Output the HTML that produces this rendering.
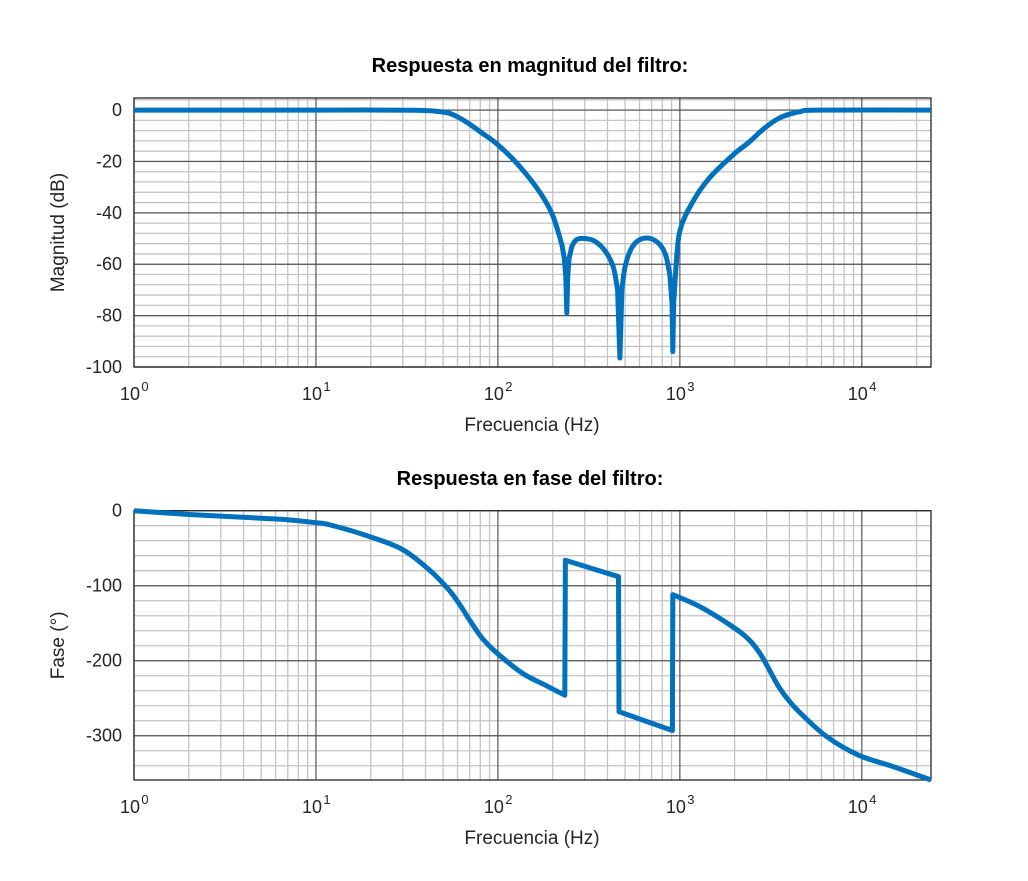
<!DOCTYPE html>
<html><head><meta charset="utf-8"><style>
body{margin:0;background:#fff;}
svg text{font-family:"Liberation Sans",sans-serif;fill:#262626;}
</style></head><body>
<svg id="c" width="1028" height="876" xmlns="http://www.w3.org/2000/svg"></svg>
<script>
const magFreq=[1,10,22,35,45,54,62,70,82,100,132,170,200,225,232,236,239,242,246,255,270,300,340,390,430,455,468,480,500,540,600,690,780,840,880,905,915,925,950,1000,1170,1450,1960,2400,2750,3100,3500,4000,4600,5800,24000];
const magDb=[0,0,0,-0.1,-0.4,-1.2,-3.2,-5.5,-9,-13.5,-22,-32,-41,-52.5,-58,-65,-79,-65,-58,-53,-50.5,-50,-51,-55,-61,-70,-96.5,-70,-61,-54,-50.5,-50,-52.5,-57,-64,-75,-94,-75,-62,-47,-36,-26.5,-17.5,-12.5,-8.6,-5.6,-3.2,-1.6,-0.6,0,0];
const phFreq=[1,2,5,7,10,12,20,30,42,54,62,70,82,99,137,180,233,235,460,463,910,915,1290,1960,2400,2750,3100,3500,4000,4600,6400,9600,14800,24000];
const phDeg=[0,-5,-10,-12,-16,-19,-35,-52,-79,-106,-126,-146,-170,-190,-217,-232,-246,-66,-88,-268,-293,-112,-128,-155,-172,-190,-212,-235,-254,-270,-301,-326,-341,-359];
const magTicks=[0,-20,-40,-60,-80,-100];
const phTicks=[0,-100,-200,-300];
const xExp=[0,1,2,3,4];

const svg=document.getElementById('c');
const NS='http://www.w3.org/2000/svg';
function mk(t,a,p){const e=document.createElementNS(NS,t);for(const k in a)e.setAttribute(k,a[k]);(p||svg).appendChild(e);return e;}
const X0=134,X1=931,FMIN=0,FMAX=Math.log10(24000);
function xs(f){return X0+(Math.log10(f)-FMIN)/(FMAX-FMIN)*(X1-X0);}
function smoothPath(P){
  let d='M'+P[0][0].toFixed(1)+','+P[0][1].toFixed(1);
  let runs=[[P[0]]];
  for(let i=1;i<P.length;i++){
    if(Math.abs(P[i][0]-P[i-1][0])<3){runs.push([P[i]]);}else runs[runs.length-1].push(P[i]);
  }
  runs.forEach((r,ri)=>{
    if(ri>0)d+=' L'+r[0][0].toFixed(1)+','+r[0][1].toFixed(1);
    for(let i=0;i<r.length-1;i++){
      const p0=r[Math.max(0,i-1)],p1=r[i],p2=r[i+1],p3=r[Math.min(r.length-1,i+2)];
      const c1=[p1[0]+(p2[0]-p0[0])/6,p1[1]+(p2[1]-p0[1])/6];
      const c2=[p2[0]-(p3[0]-p1[0])/6,p2[1]-(p3[1]-p1[1])/6];
      d+=' C'+c1.map(v=>v.toFixed(1))+' '+c2.map(v=>v.toFixed(1))+' '+p2.map(v=>v.toFixed(1));
    }
  });
  return d;
}

function panel(name,top,bot,ymin,ymax,minorStep,yt,fx,fy,title,ylab,titleY,ylx){
  const ys=v=>top+(ymax-v)/(ymax-ymin)*(bot-top);
  const g=mk('g',{});
  
  
  mk('rect',{x:X0,y:top,width:X1-X0,height:bot-top,fill:'#fff'},g);
  for(let d=0;d<=4;d++)for(let m=2;m<=9;m++){const f=m*Math.pow(10,d);if(f>24000)continue;const x=xs(f);
    mk('line',{x1:x,x2:x,y1:top,y2:bot,stroke:'#c4c4c4','stroke-width':1.3},g);}
  for(let v=Math.ceil(ymin/minorStep)*minorStep;v<=ymax;v+=minorStep){const y=ys(v);
    mk('line',{x1:X0,x2:X1,y1:y,y2:y,stroke:'#c4c4c4','stroke-width':1.3},g);}
  xExp.forEach(e=>{const x=xs(Math.pow(10,e));mk('line',{x1:x,x2:x,y1:top,y2:bot,stroke:'#555','stroke-width':1.2},g);
    const t=mk('text',{x:x-4,y:bot+33,'font-size':18,'text-anchor':'middle'},g);t.textContent='10';
    const s=mk('text',{x:x+11,y:bot+24,'font-size':13,'text-anchor':'middle'},g);s.textContent=e;});
  yt.forEach(v=>{const y=ys(v);mk('line',{x1:X0,x2:X1,y1:y,y2:y,stroke:'#555','stroke-width':1.2},g);
    const t=mk('text',{x:X0-12,y:y+6,'font-size':18,'text-anchor':'end'},g);t.textContent=v;});
  mk('rect',{x:X0,y:top,width:X1-X0,height:bot-top,fill:'none',stroke:'#262626','stroke-width':1.3},g);
  const t=mk('text',{x:530,y:titleY,'font-size':20,'font-weight':'bold','text-anchor':'middle',style:'fill:#000'},g);t.textContent=title;
  
  const xl=mk('text',{x:532,y:bot+64,'font-size':19,'text-anchor':'middle'},g);xl.textContent='Frecuencia (Hz)';
  
  const yc=(top+bot)/2;
  const yl=mk('text',{x:ylx,y:yc,'font-size':19,'text-anchor':'middle',transform:`rotate(-90 ${ylx} ${yc})`},g);yl.textContent=ylab;
  
  const P=fx.map((f,i)=>[xs(f),ys(fy[i])]);
  const pl=mk('path',{d:smoothPath(P),fill:'none',stroke:'#0072bd','stroke-width':5,'stroke-linejoin':'round'},g);
  
}
panel('magnitude',98,367,-100,4.7,4,magTicks,magFreq,magDb,'Respuesta en magnitud del filtro:','Magnitud (dB)',72,64);
panel('phase',510.7,780,-359,0,20,phTicks,phFreq,phDeg,'Respuesta en fase del filtro:','Fase (°)',485,64);
</script>
</body></html>
